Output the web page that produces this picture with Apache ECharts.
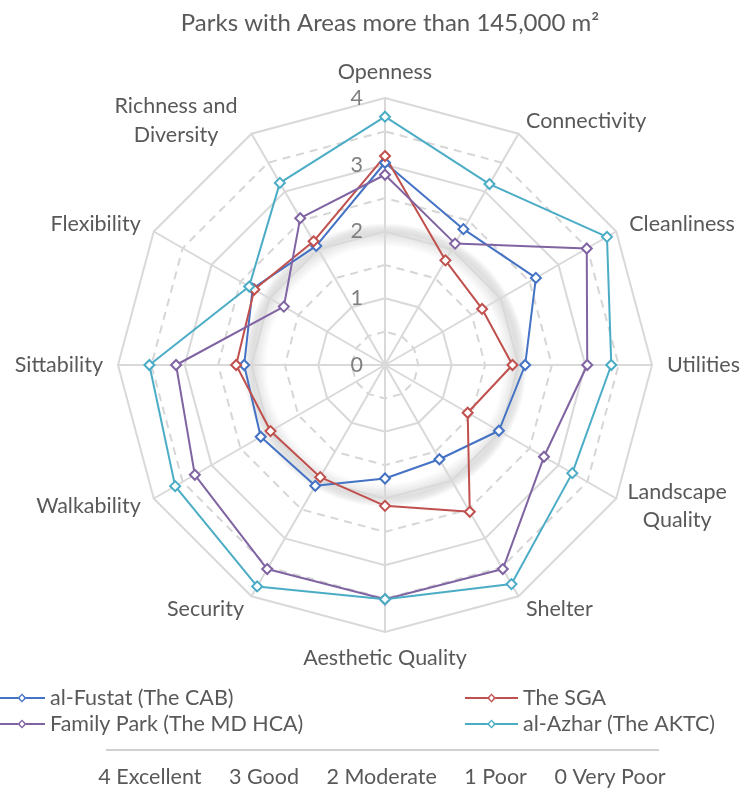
<!DOCTYPE html>
<html>
<head>
<meta charset="utf-8">
<script src="https://cdn.jsdelivr.net/npm/echarts@6/dist/echarts.min.js"></script>
<style>
  html, body { margin: 0; padding: 0; background: #ffffff; }
  #chart { width: 744px; height: 789px; }
</style>
</head>
<body>
<div id="chart"></div>
<script>
// Assessment criteria, listed from the top spoke going round the chart
const criteria = [
  'Openness', 'Richness and Diversity', 'Flexibility', 'Sittability',
  'Walkability', 'Security', 'Aesthetic Quality', 'Shelter',
  'Landscape Quality', 'Utilities', 'Cleanliness', 'Connectivity'
];

// Scores (0–4) per park, in the same order as the criteria
const alFustat   = [3.03, 2.06, 2.29, 2.11, 2.15, 2.09, 1.70, 1.63, 1.97, 2.10, 2.61, 2.35];
const theSGA     = [3.13, 2.14, 2.26, 2.23, 1.98, 1.94, 2.11, 2.54, 1.43, 1.91, 1.68, 1.81];
const familyPark = [2.85, 2.54, 1.75, 3.13, 3.29, 3.53, 3.51, 3.53, 2.75, 3.03, 3.49, 2.10];
const alAzhar    = [3.72, 3.15, 2.35, 3.53, 3.63, 3.83, 3.51, 3.79, 3.24, 3.39, 3.84, 3.13];

const seriesNames = ['al-Fustat (The CAB)', 'The SGA', 'Family Park (The MD HCA)', 'al-Azhar (The AKTC)'];
const seriesColors = ['#4472C4', '#C0504D', '#8064A2', '#4BACC6'];
const seriesValues = [alFustat, theSGA, familyPark, alAzhar];

const tickLabels = ['0', '1', '2', '3', '4'];
const scoreKey = '4 Excellent     3 Good     2 Moderate     1 Poor     0 Very Poor';
const chartTitle = 'Parks with Areas more than 145,000 m\u00B2';

const FONT = 'Lato, "Open Sans", sans-serif';
const TEXT = '#595959';
const GRID = '#d9d9d9';

// Plot geometry shared by both radar layers and the glow ring
const CX = 385, CY = 365, R = 267;

// Legend glyphs: a line with a hollow diamond in the middle
const legendIconFull = 'path://M0,4L22.5,4L22.5,6L0,6Z M30.5,4L53,4L53,6L30.5,6Z ' +
  'M26.5,0.5L31,5L26.5,9.5L22,5Z M26.5,2.3L24.2,5L26.5,7.7L28.8,5Z';
const legendIconCut = 'path://M0,4L18,4L18,6L0,6Z M26,4L45,4L45,6L26,6Z ' +
  'M22,0.5L26.5,5L22,9.5L17.5,5Z M22,2.3L19.7,5L22,7.7L24.3,5Z';

const chart = echarts.init(document.getElementById('chart'), null, { renderer: 'canvas' });

const indicator = criteria.map((name, i) => {
  const item = { name: name, min: 0, max: 4 };
  if (i === 0) item.axisLabel = { show: true };
  return item;
});

function wrapName(name) {
  if (name === 'Richness and Diversity') return '{c1|Richness and}\n{c1|Diversity}';
  if (name === 'Landscape Quality') return '{c2|Landscape}\n{c2|Quality}';
  return name;
}

const lineSeries = seriesNames.map((name, i) => ({
  type: 'radar',
  radarIndex: 0,
  z: 3,
  symbol: 'emptyDiamond',
  symbolSize: 10,
  lineStyle: { color: seriesColors[i], width: 2 },
  itemStyle: { color: seriesColors[i], borderWidth: 1.6 },
  data: [{ name: name, value: seriesValues[i] }]
}));

const legendText = { color: TEXT, fontFamily: FONT, fontSize: 21.5, lineHeight: 26 };

const option = {
  backgroundColor: '#ffffff',
  animation: false,
  radar: [
    {
      center: [CX, CY],
      radius: R,
      startAngle: 90,
      shape: 'polygon',
      splitNumber: 4,
      indicator: indicator,
      nameGap: 15,
      axisName: {
        color: TEXT,
        fontFamily: FONT,
        fontSize: 21.5,
        formatter: wrapName,
        rich: {
          c1: { width: 136, align: 'center', color: TEXT, fontFamily: FONT, fontSize: 21.5, lineHeight: 29 },
          c2: { width: 96, align: 'center', color: TEXT, fontFamily: FONT, fontSize: 21.5, lineHeight: 28 }
        }
      },
      axisLine: { lineStyle: { color: GRID, width: 2 } },
      splitLine: { lineStyle: { color: GRID, width: 2 } },
      splitArea: { show: false },
      axisTick: { show: false },
      axisLabel: {
        show: false,
        color: '#7f7f7f',
        fontFamily: FONT,
        fontSize: 21.5,
        margin: 22,
        formatter: v => tickLabels[Math.round(v)]
      }
    },
    {
      center: [CX, CY],
      radius: R,
      startAngle: 90,
      shape: 'polygon',
      splitNumber: 8,
      indicator: criteria.map(() => ({ name: '', min: 0, max: 4 })),
      axisName: { show: false },
      axisLine: { show: false },
      axisTick: { show: false },
      axisLabel: { show: false },
      splitArea: { show: false },
      splitLine: {
        lineStyle: { color: ['rgba(0,0,0,0)', '#d6d6d6'], width: 2, type: [8, 6] }
      }
    }
  ],
  legend: [
    {
      left: 0, top: 685, orient: 'vertical', padding: 0,
      itemWidth: 45, itemHeight: 10, itemGap: 0,
      itemStyle: { borderWidth: 0 },
      textStyle: legendText,
      data: [
        { name: seriesNames[0], icon: legendIconCut },
        { name: seriesNames[2], icon: legendIconCut }
      ]
    },
    {
      left: 465, top: 685, orient: 'vertical', padding: 0,
      itemWidth: 53, itemHeight: 10, itemGap: 0,
      itemStyle: { borderWidth: 0 },
      textStyle: legendText,
      data: [
        { name: seriesNames[1], icon: legendIconFull },
        { name: seriesNames[3], icon: legendIconFull }
      ]
    }
  ],
  graphic: [
    {
      // soft glow ring around the middle of the plot
      type: 'circle',
      z: -1,
      silent: true,
      shape: { cx: CX, cy: CY, r: 142 },
      style: {
        fill: new echarts.graphic.RadialGradient(0.5, 0.5, 0.5, [
          { offset: 0, color: 'rgba(0,0,0,0)' },
          { offset: 0.83, color: 'rgba(0,0,0,0)' },
          { offset: 0.935, color: 'rgba(0,0,0,0.13)' },
          { offset: 0.965, color: 'rgba(0,0,0,0.09)' },
          { offset: 1, color: 'rgba(0,0,0,0)' }
        ])
      }
    },
    {
      type: 'text', x: 390, y: 23,
      style: { text: chartTitle, align: 'center', verticalAlign: 'middle', fill: TEXT, font: '24px ' + FONT }
    },
    {
      type: 'line',
      shape: { x1: 106, y1: 750, x2: 659, y2: 750 },
      style: { stroke: '#d0d0d0', lineWidth: 2 }
    },
    {
      type: 'text', x: 382, y: 777,
      style: { text: scoreKey, align: 'center', verticalAlign: 'middle', fill: TEXT, font: '21.5px ' + FONT }
    }
  ],
  series: lineSeries
};

chart.setOption(option);
</script>
</body>
</html>
